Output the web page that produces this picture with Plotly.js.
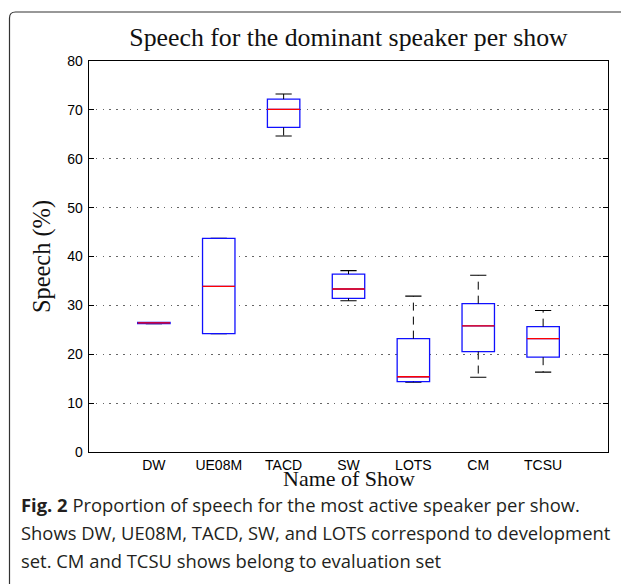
<!DOCTYPE html>
<html>
<head>
<meta charset="utf-8">
<script src="https://cdn.plot.ly/plotly-3.0.1.min.js"></script>
<style>html,body{margin:0;padding:0;background:#fff;}#chart{width:621px;height:584px;}</style>
</head>
<body>
<div id="chart"></div>
<script>
// ---- data ----
var shows        = ["DW", "UE08M", "TACD", "SW", "LOTS", "CM", "TCSU"];
var upperWhisker = [26.5, 43.7, 73.25, 37.1, 31.9, 36.15, 28.95];
var q3           = [26.5, 43.7, 72.2, 36.4, 23.2, 30.35, 25.65];
var median       = [26.4, 33.9, 70.1, 33.35, 15.4, 25.8, 23.2];
var q1           = [26.25, 24.2, 66.4, 31.45, 14.4, 20.55, 19.4];
var lowerWhisker = [26.25, 24.2, 64.65, 30.95, 14.3, 15.3, 16.35];
var yTickVals    = [0, 10, 20, 30, 40, 50, 60, 70, 80];

var titleText  = "Speech for the dominant speaker per show";
var xTitleText = "Name of Show";
var yTitleText = "Speech (%)";
var captionLines = [
  "<b>Fig. 2</b> Proportion of speech for the most active speaker per show.",
  "Shows DW, UE08M, TACD, SW, and LOTS correspond to development",
  "set. CM and TCSU shows belong to evaluation set"
];

// ---- whisker stems (dashed) ----
var wx = [], wy = [];
shows.forEach(function (s, i) {
  wx.push(s, s, null, s, s, null);
  wy.push(q3[i], upperWhisker[i], null, q1[i], lowerWhisker[i], null);
});

function flatBox(vals, color, width, lw) {
  return {
    type: "box", x: shows, q1: vals, q3: vals, median: vals,
    lowerfence: vals, upperfence: vals, width: width,
    line: {color: color, width: lw}, fillcolor: "rgba(0,0,0,0)",
    whiskerwidth: 0, boxpoints: false, hoverinfo: "skip", showlegend: false
  };
}

var traces = [
  flatBox(upperWhisker, "#000000", 0.25, 1.1),
  flatBox(lowerWhisker, "#000000", 0.25, 1.1),
  {
    type: "box", x: shows, q1: q1, q3: q3, median: median,
    lowerfence: q1, upperfence: q3, width: 0.5,
    line: {color: "#1010ff", width: 1.3}, fillcolor: "#ffffff",
    whiskerwidth: 0, boxpoints: false, hoverinfo: "skip", showlegend: false
  },
  flatBox(median, "#ff0000", 0.5, 1.3),
  {
    type: "scatter", mode: "lines", x: wx, y: wy, connectgaps: false,
    line: {color: "#000000", width: 1, dash: "8px,6px"},
    hoverinfo: "skip", showlegend: false
  }
];

var serif = "Liberation Serif, Times New Roman, serif";
var sans  = "Liberation Sans, Arial, sans-serif";
var capFont = "Open Sans, Noto Sans, sans-serif";

var L = 89, R = 13, T = 61, B = 132, W = 621, H = 584;
var pw = W - L - R, ph = H - T - B;
function px2x(X) { return (X - L) / pw; }
function px2y(Y) { return (H - B - Y) / ph; }

var annotations = captionLines.map(function (t, i) {
  return {
    text: t, xref: "paper", yref: "paper", x: px2x(19), y: px2y(504 + 28 * i),
    xanchor: "left", yanchor: "middle", showarrow: false, align: "left",
    font: {family: capFont, size: 18.4, color: "#231f20"}
  };
});
annotations.push({
  text: xTitleText, xref: "paper", yref: "paper", x: 0.5, y: px2y(478),
  xanchor: "center", yanchor: "middle", showarrow: false,
  font: {family: serif, size: 22, color: "#111"}
});

var rx = 6 / pw, ry = 6 / ph;
var fx = px2x(9.5), fy = px2y(12);
var framePath = "M " + fx + "," + px2y(600) + " L " + fx + "," + (fy - ry) +
  " Q " + fx + "," + fy + " " + (fx + rx) + "," + fy + " L " + px2x(640) + "," + fy;

var layout = {
  width: W, height: H,
  margin: {l: L, r: R, t: T, b: B},
  paper_bgcolor: "#ffffff", plot_bgcolor: "#ffffff",
  boxmode: "overlay",
  showlegend: false,
  title: {
    text: titleText, x: 0.5, xref: "paper", xanchor: "center",
    y: 1 - 37 / H, yref: "container", yanchor: "middle",
    font: {family: serif, size: 25.8, color: "#111"}
  },
  xaxis: {
    type: "category", range: [-1, 7], fixedrange: true,
    showline: true, linecolor: "#000", linewidth: 1.3, mirror: true,
    ticks: "", showgrid: false, zeroline: false,
    tickfont: {family: sans, size: 14, color: "#000"}
  },
  yaxis: {
    range: [0, 80], tickvals: yTickVals, ticktext: yTickVals.map(String),
    showline: true, linecolor: "#000", linewidth: 1.3, mirror: "ticks",
    ticks: "inside", ticklen: 5, tickcolor: "#000", tickwidth: 1.2,
    ticklabelstandoff: 2,
    showgrid: true, gridcolor: "#666", gridwidth: 1, griddash: "1.5px,5.3px",
    zeroline: false,
    tickfont: {family: sans, size: 14, color: "#000"},
    title: {text: yTitleText, standoff: 9, font: {family: serif, size: 24.4, color: "#111"}}
  },
  annotations: annotations,
  shapes: [{
    type: "path", xref: "paper", yref: "paper", path: framePath,
    line: {color: "#333", width: 1.2}, layer: "above"
  }]
};

Plotly.newPlot("chart", traces, layout, {displayModeBar: false, staticPlot: true});
</script>
</body>
</html>
